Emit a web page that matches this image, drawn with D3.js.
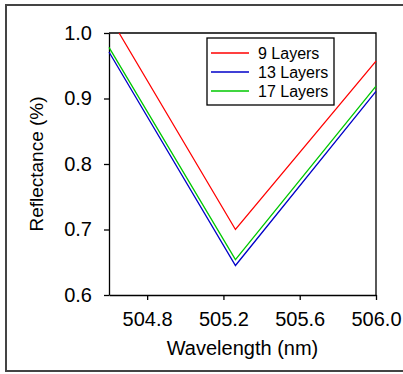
<!DOCTYPE html>
<html>
<head>
<meta charset="utf-8">
<script src="https://cdn.jsdelivr.net/npm/d3@7"></script>
<style>
  body { margin: 0; background: #fff; }
  text { font-family: "Liberation Sans", Arial, sans-serif; fill: #000; }
</style>
</head>
<body>
<div id="chart"></div>
<script>
// reflectance dips, one V per layer count
const series = ["9 Layers", "13 Layers", "17 Layers"];
const colors = ["#ff0000", "#0000c8", "#00c800"];
const wavelengths = [
  [504.653, 505.263, 506.0],
  [504.6, 505.263, 506.0],
  [504.6, 505.263, 506.0],
];
const reflectance = [
  [1.0, 0.70, 0.957],
  [0.971, 0.645, 0.911],
  [0.978, 0.654, 0.919],
];
const xTicks = [504.8, 505.2, 505.6, 506.0];
const yTicks = [0.6, 0.7, 0.8, 0.9, 1.0];

const width = 403;
const height = 374;
const margin = { top: 33, right: 27, bottom: 79, left: 109 };

const svg = d3.select("#chart").append("svg")
  .attr("width", width)
  .attr("height", height);

// outer frame of the figure
svg.append("rect")
  .attr("x", 6).attr("y", 5)
  .attr("width", 402).attr("height", 366)
  .attr("fill", "none")
  .attr("stroke", "#444")
  .attr("stroke-width", 2);

const x = d3.scaleLinear().domain([504.6, 506.0]).range([margin.left, width - margin.right]);
const y = d3.scaleLinear().domain([0.6, 1.0]).range([height - margin.bottom, margin.top]);

const xAxis = svg.append("g")
  .attr("transform", `translate(0,${y(0.6)})`)
  .call(d3.axisBottom(x).tickValues(xTicks).tickFormat(d3.format(".1f")).tickSize(5).tickPadding(12).tickSizeOuter(0));
const yAxis = svg.append("g")
  .attr("transform", `translate(${x(504.6)},0)`)
  .call(d3.axisLeft(y).tickValues(yTicks).tickFormat(d3.format(".1f")).tickSize(5).tickPadding(12).tickSizeOuter(0));

[xAxis, yAxis].forEach((a) => {
  a.selectAll("text").style("font-size", "20px").attr("fill", "#000");
  a.selectAll("line, path").attr("stroke", "#000").attr("stroke-width", 1.3);
});

// top and right sides of the plot box
svg.append("path")
  .attr("d", `M${x(504.6)},${y(1.0)}H${x(506.0)}V${y(0.6)}`)
  .attr("fill", "none")
  .attr("stroke", "#000")
  .attr("stroke-width", 1.3);

const line = d3.line().x((d) => x(d[0])).y((d) => y(d[1]));

series.forEach((name, i) => {
  const pts = wavelengths[i].map((w, j) => [w, reflectance[i][j]]);
  svg.append("path")
    .datum(pts)
    .attr("d", line)
    .attr("fill", "none")
    .attr("stroke", colors[i])
    .attr("stroke-width", 1.3);
});

// axis titles
svg.append("text")
  .attr("x", (x(504.6) + x(506.0)) / 2)
  .attr("y", 355)
  .attr("text-anchor", "middle")
  .style("font-size", "20px")
  .text("Wavelength (nm)");

svg.append("text")
  .attr("transform", `translate(43,${(y(0.6) + y(1.0)) / 2}) rotate(-90)`)
  .attr("text-anchor", "middle")
  .style("font-size", "19px")
  .text("Reflectance (%)");

// legend
const legend = svg.append("g").attr("transform", "translate(207,38)");
legend.append("rect")
  .attr("width", 127).attr("height", 67)
  .attr("fill", "#fff")
  .attr("stroke", "#000")
  .attr("stroke-width", 1.3);
series.forEach((name, i) => {
  const ly = 15 + i * 19;
  legend.append("line")
    .attr("x1", 4).attr("x2", 42)
    .attr("y1", ly).attr("y2", ly)
    .attr("stroke", colors[i])
    .attr("stroke-width", 1.3);
  legend.append("text")
    .attr("x", 51).attr("y", ly + 6)
    .style("font-size", "16px")
    .text(name);
});
</script>
</body>
</html>
